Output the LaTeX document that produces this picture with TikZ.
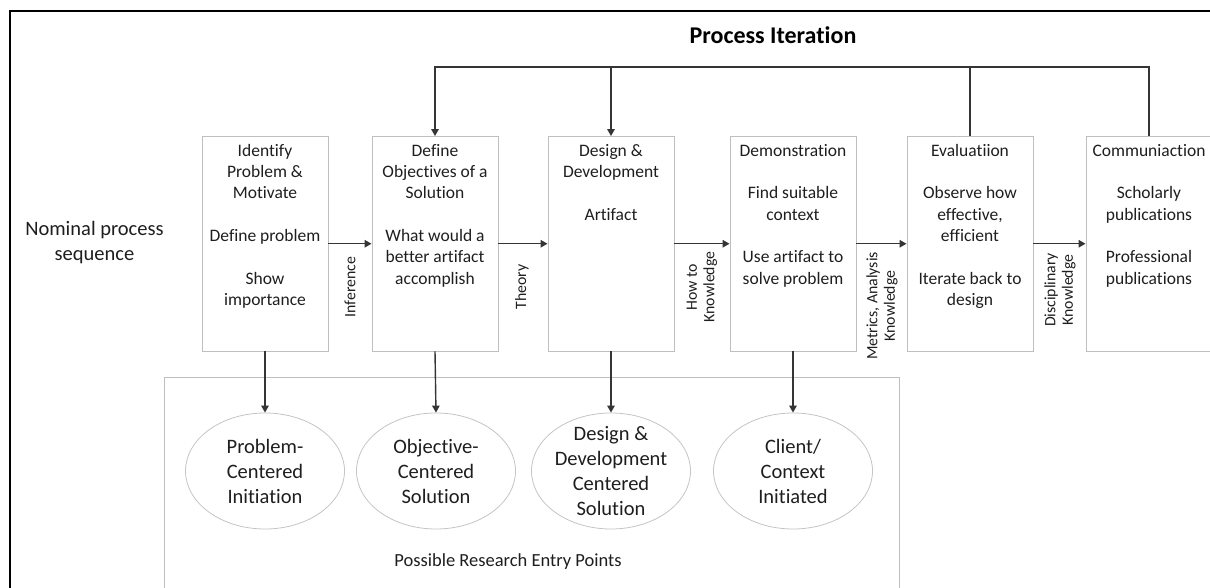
\documentclass[tikz,border=0pt]{standalone}
\usepackage{fontspec}
\setmainfont{Carlito}[Ligatures=CommonOff]
\usetikzlibrary{arrows.meta,shapes.geometric}
\definecolor{ink}{HTML}{1E1E1E}
\definecolor{wire}{HTML}{353535}
\definecolor{boxline}{HTML}{BFBFBF}
\definecolor{ovalline}{HTML}{C4C4C4}
\newcommand\firstline{\rule{0pt}{14pt}}
\begin{document}
\begin{tikzpicture}[x=1pt,y=-1pt,
  stepbox/.style={draw=boxline,line width=0.9pt,minimum width=126pt,minimum height=214.5pt,inner sep=0pt},
  steptext/.style={anchor=north,inner sep=0pt,align=center,text=ink,font=\fontsize{17.5}{21.3}\selectfont},
  entry/.style={draw=ovalline,ellipse,line width=0.8pt,minimum width=159pt,minimum height=116pt,inner sep=0pt},
  entrytext/.style={align=center,inner sep=0pt,text=ink,font=\fontsize{20.5}{25}\selectfont},
  flow/.style={draw=wire,line width=1.4pt,-{Triangle[length=7pt,width=7.5pt]}},
  plain/.style={draw=wire,line width=1.4pt},
  vlabel/.style={rotate=90,align=center,inner sep=0pt,text=ink,font=\fontsize{15.8}{17.5}\selectfont},
]
\useasboundingbox (0,0) rectangle (1210,588);
\clip (0,0) rectangle (1210,588);

% outer frame and the entry-point panel
\draw[black,line width=2pt] (10,11) rectangle (1240,620);
\draw[boxline,line width=0.9pt] (164,377.5) rectangle (899,620);

% title and side caption
\node[inner sep=0pt,text=black,font=\bfseries\fontsize{24}{29}\selectfont] (title) at (773,35) {Process Iteration};
\node[align=center,inner sep=0pt,text=ink,font=\fontsize{20.5}{25}\selectfont] (nominal) at (94.5,243) {Nominal process\\sequence};

% process steps
\node[stepbox] (s1) at (265,243.75) {};
\node[stepbox] (s2) at (435,243.75) {};
\node[stepbox] (s3) at (611,243.75) {};
\node[stepbox] (s4) at (793,243.75) {};
\node[stepbox] (s5) at (970,243.75) {};
\node[stepbox] (s6) at (1149,243.75) {};

\node[steptext] (t1) at ([yshift=-6pt]s1.north) {\firstline Identify\\Problem \&\\Motivate\\[21.3pt]Define problem\\[21.3pt]Show\\importance};
\node[steptext] (t2) at ([yshift=-6pt]s2.north) {\firstline Define\\Objectives of a\\Solution\\[21.3pt]What would a\\better artifact\\accomplish};
\node[steptext] (t3) at ([yshift=-6pt]s3.north) {\firstline Design \&\\Development\\[21.3pt]Artifact};
\node[steptext] (t4) at ([yshift=-6pt]s4.north) {\firstline Demonstration\\[21.3pt]Find suitable\\context\\[21.3pt]Use artifact to\\solve problem};
\node[steptext] (t5) at ([yshift=-6pt]s5.north) {\firstline Evaluatiion\\[21.3pt]Observe how\\effective,\\efficient\\[21.3pt]Iterate back to\\design};
\node[steptext] (t6) at ([yshift=-6pt]s6.north) {\firstline Communiaction\\[21.3pt]Scholarly\\publications\\[21.3pt]Professional\\publications};

% knowledge labels between the steps
\node[vlabel] (k1) at (350,287) {Inference};
\node[vlabel] (k2) at (522,287) {Theory};
\node[vlabel] (k3) at (702,287) {How to\\Knowledge};
\node[vlabel] (k4) at (882,306) {Metrics, Analysis\\Knowledge};
\node[vlabel] (k5) at (1060,290) {Disciplinary\\Knowledge};

% research entry points
\node[entry] (e1) at (265,471) {};
\node[entry] (e2) at (436,471) {};
\node[entry] (e3) at (611,471) {};
\node[entry] (e4) at (793,471) {};
\node[entrytext] (et1) at (e1) {Problem-\\Centered\\Initiation};
\node[entrytext] (et2) at (e2) {Objective-\\Centered\\Solution};
\node[entrytext] (et3) at (e3) {Design \&\\Development\\Centered\\Solution};
\node[entrytext] (et4) at (e4) {Client/\\Context\\Initiated};
\node[inner sep=0pt,text=ink,font=\fontsize{18.5}{22}\selectfont] (entrycap) at (508,562) {Possible Research Entry Points};

% nominal sequence
\draw[flow] (s1.east) -- (s2.west);
\draw[flow] (s2.east) -- (s3.west);
\draw[flow] (s3.east) -- (s4.west);
\draw[flow] (s4.east) -- (s5.west);
\draw[flow] (s5.east) -- (s6.west);

% entry arrows
\draw[flow] (s1.south) -- (e1.north);
\draw[flow] (s2.south) -- (e2.north);
\draw[flow] (s3.south) -- (e3.north);
\draw[flow] (s4.south) -- (e4.north);

% iteration loop
\coordinate (loop) at (435,67);
\draw[flow] (s6.north) |- (loop) -- (s2.north);
\draw[plain] (s5.north) -- (s5.north |- loop);
\draw[flow] (s3.north |- loop) -- (s3.north);
\end{tikzpicture}
\end{document}
